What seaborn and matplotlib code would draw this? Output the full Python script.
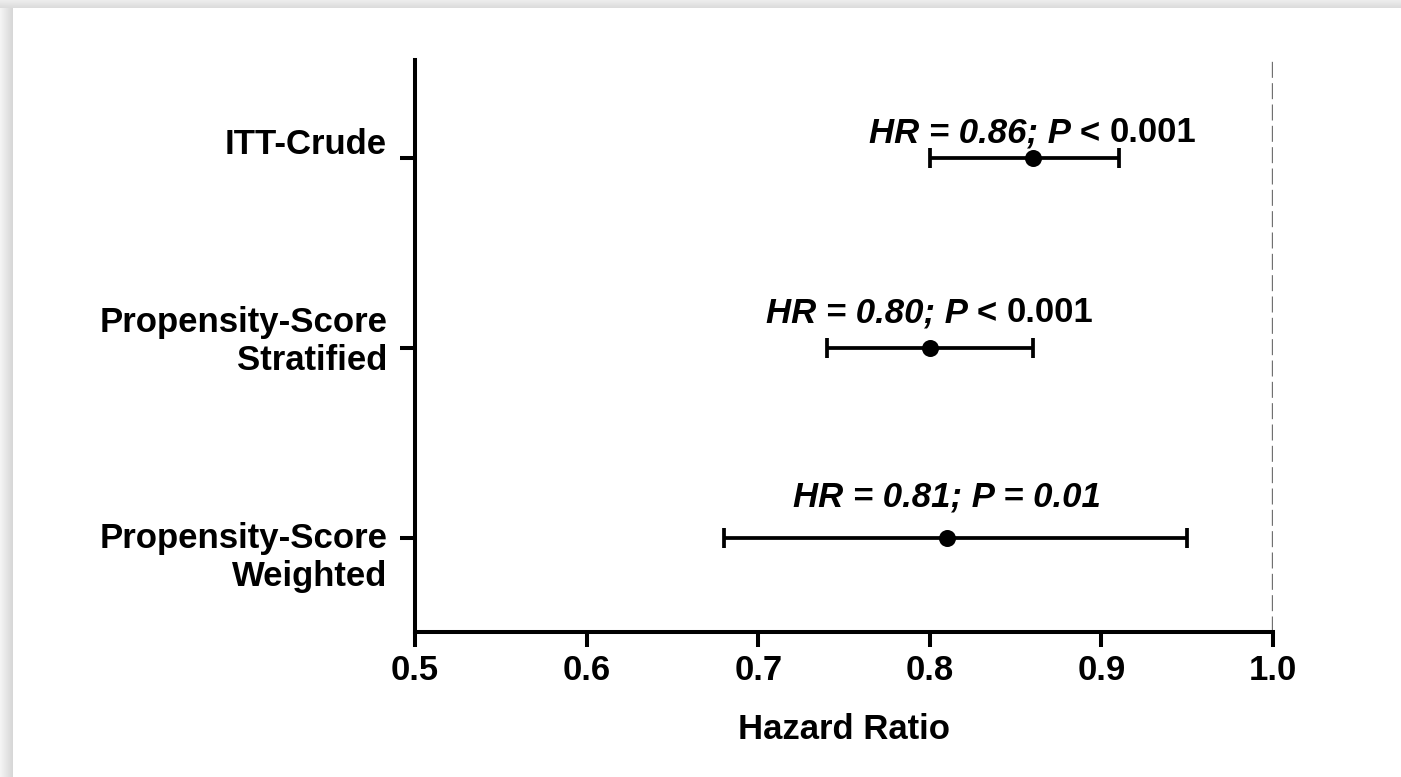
import numpy as np
import pandas as pd
import matplotlib
matplotlib.use("Agg")
import matplotlib.pyplot as plt
import seaborn as sns
from matplotlib.offsetbox import TextArea, HPacker, AnnotationBbox
from matplotlib.transforms import ScaledTranslation

# Hazard ratios with 95% confidence intervals for each analysis model
models = ["ITT-Crude", "Propensity-Score\nStratified", "Propensity-Score\nWeighted"]
hazard_ratio = [0.86, 0.80, 0.81]
ci_lower = [0.80, 0.74, 0.68]
ci_upper = [0.91, 0.86, 0.95]
hr_text = ["HR = 0.86; P <", "HR = 0.80; P <", "HR = 0.81; P = 0.01"]
p_text = ["0.001", "0.001", ""]
x_ticks = [0.5, 0.6, 0.7, 0.8, 0.9, 1.0]
x_label = "Hazard Ratio"

sns.set_theme(style="ticks")
plt.rcParams["font.family"] = ["Liberation Sans", "DejaVu Sans"]
plt.rcParams["font.weight"] = "bold"
plt.rcParams["axes.labelweight"] = "bold"
plt.rcParams["text.color"] = "black"
plt.rcParams["axes.labelcolor"] = "black"

FS = 25
LW = 2.9

df = pd.DataFrame({"model": models, "hr": hazard_ratio,
                   "lo": ci_lower, "hi": ci_upper})
df["pos"] = np.arange(len(df))

fig = plt.figure(figsize=(14.01, 7.77), dpi=100)
fig.patch.set_facecolor("white")
ax = fig.add_axes([415 / 1401, 1 - 632 / 777, (1273 - 415) / 1401, (632 - 60) / 777])

# reference line at HR = 1
ax.axvline(1.0, color="#707070", lw=2.4, ls=(0, (4.8, 1.6)), zorder=1)

# confidence intervals
ax.errorbar(df["hr"], df["pos"],
            xerr=[df["hr"] - df["lo"], df["hi"] - df["hr"]],
            fmt="none", ecolor="black", elinewidth=2.7,
            capsize=7.2, capthick=2.7, zorder=2)

# point estimates
sns.scatterplot(data=df, x="hr", y="pos", color="black", s=150,
                linewidth=0, ax=ax, zorder=3, legend=False)

ax.set_xlim(0.5, 1.0)
ax.set_ylim(2.495, -0.516)
ax.set_xticks(x_ticks, labels=[f"{t:.1f}" for t in x_ticks])
ax.set_yticks(df["pos"], labels=models)
ax.set_xlabel(x_label, fontsize=FS, fontweight="bold", labelpad=19,
              color="black")
ax.set_ylabel("")

sns.despine(ax=ax, top=True, right=True)
for side in ("left", "bottom"):
    ax.spines[side].set_linewidth(LW)
    ax.spines[side].set_color("black")
ax.tick_params(axis="both", which="major", length=10.5, width=LW,
               color="black", labelsize=FS, labelcolor="black")
ax.tick_params(axis="x", pad=5)
ax.tick_params(axis="y", pad=9.5)
for lab in ax.get_xticklabels() + ax.get_yticklabels():
    lab.set_fontweight("bold")

# per-label vertical placement of the model names (points, last-line baseline)
label_shift = [2.9, -15.8, -34.5]
for lab, dy in zip(ax.get_yticklabels(), label_shift):
    lab.set_verticalalignment("baseline")
    lab.set_multialignment("right")
    lab.set_transform(lab.get_transform() +
                      ScaledTranslation(0, dy / 72, fig.dpi_scale_trans))

# estimate annotations above each interval
text_lift = [6.2, 13.4, 17.7]
it_props = dict(fontsize=FS, fontweight="bold", fontstyle="italic", color="black")
rm_props = dict(fontsize=FS, fontweight="bold", color="black")
for hr, y, t_it, t_rm, lift in zip(df["hr"], df["pos"], hr_text, p_text, text_lift):
    parts = [TextArea(t_it, textprops=it_props)]
    if t_rm:
        parts.append(TextArea(t_rm, textprops=rm_props))
    box = HPacker(children=parts, align="baseline", pad=0, sep=7)
    ab = AnnotationBbox(box, (hr, y), xybox=(0, lift), xycoords="data",
                        boxcoords="offset points", box_alignment=(0.5, 0),
                        frameon=False, pad=0)
    ax.add_artist(ab)

# soft grey page edge along the top and left
top = fig.add_axes([0, 1 - 8 / 777, 1, 8 / 777])
top.imshow(np.linspace(0.93, 0.86, 16)[:, None], cmap="gray", vmin=0, vmax=1,
           aspect="auto", interpolation="bilinear")
top.axis("off")
left = fig.add_axes([0, 0, 13 / 1401, 1 - 8 / 777])
left.imshow(np.linspace(0.96, 0.84, 26)[None, :], cmap="gray", vmin=0, vmax=1,
            aspect="auto", interpolation="bilinear")
left.axis("off")

fig.savefig("out.png", dpi=100, facecolor="white")
